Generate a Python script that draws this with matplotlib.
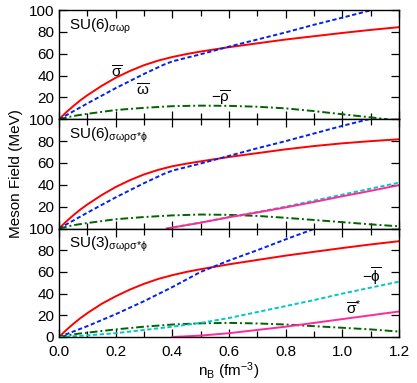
import matplotlib
matplotlib.use("Agg")
import matplotlib.pyplot as plt
from matplotlib.ticker import MultipleLocator

plt.rcParams['font.family'] = ['Liberation Sans', 'DejaVu Sans']
plt.rcParams['mathtext.fontset'] = 'custom'
plt.rcParams['mathtext.rm'] = 'Liberation Sans'
plt.rcParams['mathtext.it'] = 'Liberation Sans'
plt.rcParams['mathtext.bf'] = 'Liberation Sans:bold'

# ---------------- data ----------------
panel_labels = [r'SU(6)$_{\sigma\omega\rho}$', r'SU(6)$_{\sigma\omega\rho\sigma{*}\phi}$',
                r'SU(3)$_{\sigma\omega\rho\sigma{*}\phi}$']

n_sigma = [0, 0.025, 0.05, 0.075, 0.1, 0.15, 0.2, 0.25, 0.3, 0.35, 0.4, 0.45, 0.5,
           0.6, 0.7, 0.8, 0.9, 1.0, 1.1, 1.2]
sigma1 = [0, 6.3, 12, 17.3, 22, 30.5, 38, 44.2, 49.5, 53.7, 57, 59.7, 62,
          66, 69.5, 73, 76, 79, 81.8, 84.3]
sigma2 = [0, 6.3, 12, 17.3, 22, 30.5, 38, 44.2, 49.5, 53.7, 57, 59.4, 61.5,
          65.5, 69, 72.5, 75.5, 78, 80, 81.7]
sigma3 = [0, 6.3, 12, 17.3, 22, 30.5, 37.5, 43.7, 49, 53.5, 57, 60, 62.5,
          67, 71, 75, 78.5, 82, 85.3, 88.3]

n_omega = [0, 0.1, 0.2, 0.3, 0.37, 0.4, 0.5, 0.6, 0.7, 0.8, 0.9, 1.0, 1.1, 1.2]
omega1 = [0, 14.5, 28.5, 41.5, 50, 53, 59.5, 66.5, 73, 79.5, 86.5, 93, 99.7, 106]
omega2 = [0, 14.5, 28.5, 41.5, 50, 53, 59.5, 66.5, 73.5, 80, 87, 94, 100.5, 107]
n_omega3 = [0, 0.1, 0.2, 0.3, 0.4, 0.5, 0.6, 0.7, 0.8, 0.9, 1.0]
omega3 = [0, 10, 21, 33, 46, 60, 70.5, 80, 90, 99.6, 109]

n_rho1 = [0, 0.05, 0.1, 0.2, 0.3, 0.4, 0.5, 0.6, 0.7, 0.8, 0.9, 1.0, 1.1, 1.16]
rho1 = [0, 3, 5, 8.5, 10.5, 12, 12.5, 12.3, 11.5, 10, 7.5, 4.6, 1.8, 0]
n_rho = [0, 0.05, 0.1, 0.2, 0.3, 0.4, 0.5, 0.6, 0.7, 0.8, 0.9, 1.0, 1.1, 1.2]
rho2 = [0, 3, 5, 8.5, 10.5, 12, 12.8, 12.5, 11.5, 9.8, 7.8, 5.8, 3.8, 2]
rho3 = [0, 2.5, 4, 7, 9.5, 11.5, 12.6, 13, 12.5, 11.5, 10, 8.5, 7, 5]

n_hyp2 = [0.38, 0.5, 0.6, 0.7, 0.8, 0.9, 1.0, 1.1, 1.2]
phi2 = [0, 5.5, 10.5, 15, 20, 25.5, 31, 36.5, 42]
sstar2 = [0, 5.3, 10.3, 14.7, 19.3, 24.3, 29.5, 34.5, 39.7]

n_phi3 = [0, 0.1, 0.2, 0.3, 0.4, 0.5, 0.6, 0.7, 0.8, 0.9, 1.0, 1.1, 1.2]
phi3 = [0, 1.5, 3.5, 6.5, 9.5, 13, 17.5, 23, 28.5, 34, 40, 45.5, 51]
n_sstar3 = [0.4, 0.5, 0.6, 0.7, 0.8, 0.9, 1.0, 1.1, 1.2]
sstar3 = [0, 1.3, 3.5, 6.5, 9.5, 13, 16.5, 20, 23.5]

# ---------------- styles ----------------
RED = '#ff0000'
BLUE = '#0022ee'
GREEN = '#006400'
CYAN = '#00c8c8'
MAG = '#ff2a9a'
lw = 1.4

fig = plt.figure(figsize=(4.17, 3.83), dpi=100)
L, R = 59 / 417, 399 / 417
edges = [10, 119.3, 228.5, 337]
axes = []
for i in range(3):
    top = 1 - edges[i] / 383
    bot = 1 - edges[i + 1] / 383
    ax = fig.add_axes([L, bot, R - L, top - bot])
    axes.append(ax)

def dashes(ax, x, y, c):
    ax.plot(x, y, color=c, lw=lw, dashes=(2.2, 1.3))

def dashdot(ax, x, y, c):
    ax.plot(x, y, color=c, lw=lw, dashes=(4, 1.5, 1, 1.5))

# panel 1
ax = axes[0]
ax.plot(n_sigma, sigma1, color=RED, lw=lw)
dashes(ax, n_omega, omega1, BLUE)
dashdot(ax, n_rho1, rho1, GREEN)
ax.text(0.205, 43, r'$\overline{\sigma}$', fontsize=11, ha='center', va='center')
ax.text(0.296, 26, r'$\overline{\omega}$', fontsize=11, ha='center', va='center')
ax.text(0.57, 19, r'$-\overline{\rho}$', fontsize=11, ha='center', va='center')

# panel 2
ax = axes[1]
ax.plot(n_sigma, sigma2, color=RED, lw=lw)
dashes(ax, n_omega, omega2, BLUE)
dashdot(ax, n_rho, rho2, GREEN)
dashes(ax, n_hyp2, phi2, CYAN)
ax.plot(n_hyp2, sstar2, color=MAG, lw=lw)

# panel 3
ax = axes[2]
ax.plot(n_sigma, sigma3, color=RED, lw=lw)
dashes(ax, n_omega3, omega3, BLUE)
dashdot(ax, n_rho, rho3, GREEN)
dashes(ax, n_phi3, phi3, CYAN)
ax.plot(n_sstar3, sstar3, color=MAG, lw=lw)
ax.text(1.105, 55, r'$-\overline{\phi}$', fontsize=11, ha='center', va='center')
ax.text(1.04, 27, r'$\overline{\sigma}^{*}$', fontsize=11, ha='center', va='center')

for i, ax in enumerate(axes):
    ax.set_xlim(0, 1.2)
    ax.set_ylim(0, 100)
    ax.xaxis.set_major_locator(MultipleLocator(0.2))
    ax.xaxis.set_minor_locator(MultipleLocator(0.1))
    ax.set_yticks([0, 20, 40, 60, 80, 100])
    ax.tick_params(axis='both', which='both', direction='in', top=True, right=True,
                   labelsize=11, width=0.9)
    ax.tick_params(which='major', length=6)
    ax.tick_params(which='minor', length=4)
    ax.tick_params(axis='x', pad=6)
    for s in ax.spines.values():
        s.set_linewidth(1.0)
    if i < 2:
        ax.set_yticklabels(['', '20', '40', '60', '80', '100'])
        ax.tick_params(axis='x', labelbottom=False)
    else:
        ax.set_yticklabels(['0', '20', '40', '60', '80', '100'])
        ax.set_xticks([0, 0.2, 0.4, 0.6, 0.8, 1.0, 1.2])
        ax.set_xticklabels(['0.0', '0.2', '0.4', '0.6', '0.8', '1.0', '1.2'])
        ax.set_xlabel(r'n$_\mathrm{B}$ (fm$^{-3}$)', fontsize=11, labelpad=1)
    ax.text(0.03, 0.94, panel_labels[i], transform=ax.transAxes, fontsize=11,
            ha='left', va='top')

axes[1].set_ylabel('Meson Field (MeV)', fontsize=11, labelpad=4)

fig.savefig('out.png', dpi=100)
